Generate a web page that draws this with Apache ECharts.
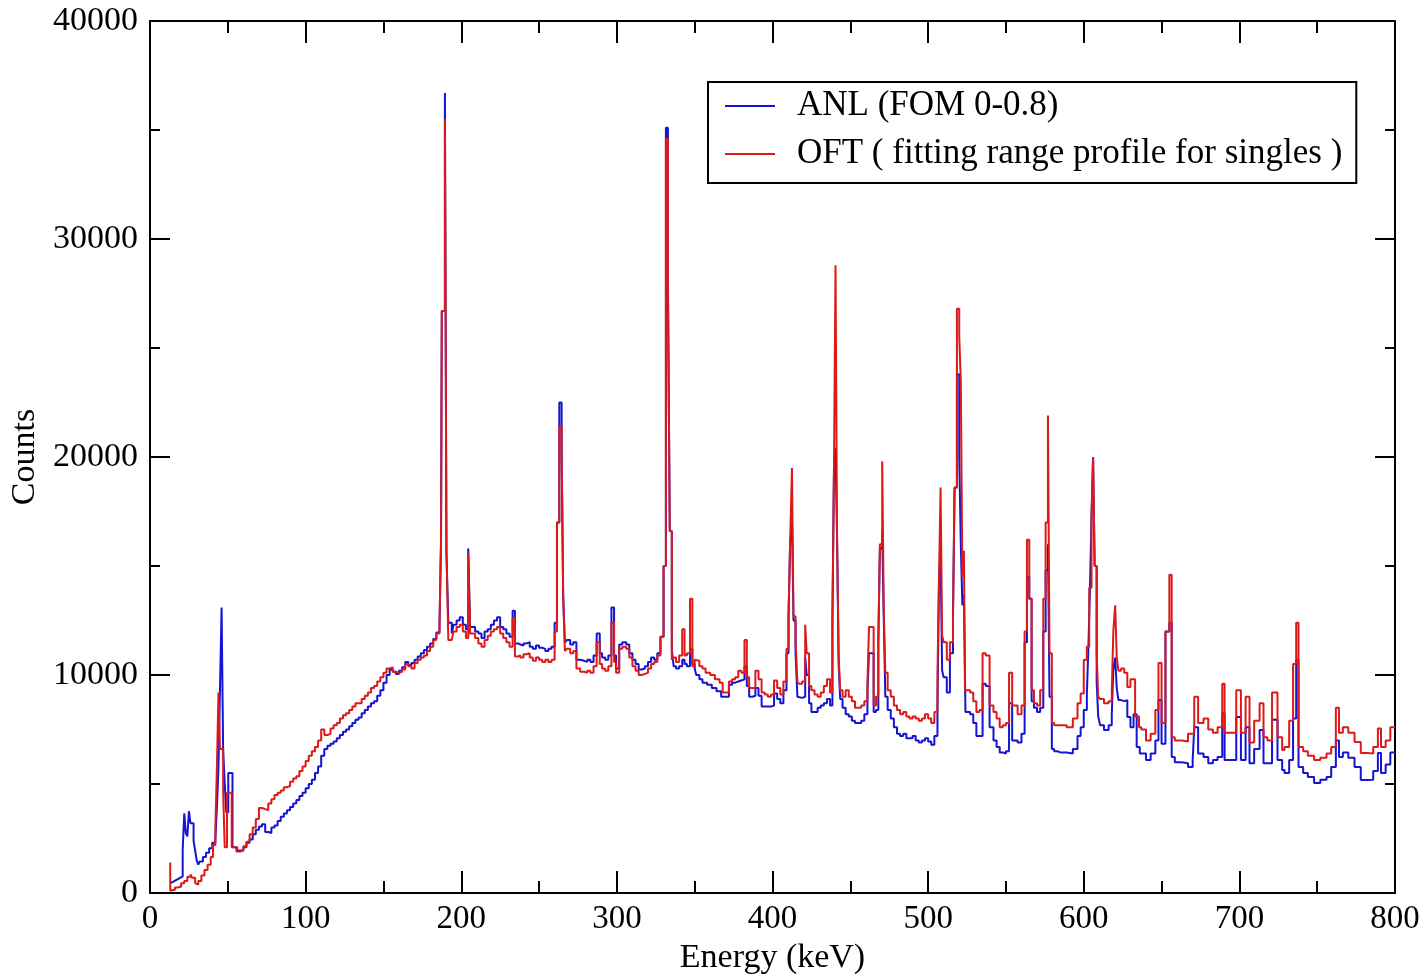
<!DOCTYPE html>
<html>
<head>
<meta charset="utf-8">
<script src="https://cdn.jsdelivr.net/npm/echarts@6/dist/echarts.min.js"></script>
<style>
html,body{margin:0;padding:0;background:#fff;}
#chart{width:1425px;height:974px;}
</style>
</head>
<body>
<div id="chart"></div>
<script>
// Energy (keV) ticks and count ticks
const xTicks = [0, 100, 200, 300, 400, 500, 600, 700, 800];
const yTicks = [0, 10000, 20000, 30000, 40000];
const seriesNames = ['ANL (FOM 0-0.8)', 'OFT ( fitting range profile for singles )'];

// ANL spectrum: [bin start energy (keV), counts]
const anl = [
[13,450],[15,520],[17,600],[19,680],[21,760],[22,1950],[23,3650],[24,2750],[25,2600],[26,3750],[28,3200],[29,2400],[30,1950],[31,1500],[32,1300],[34,1450],[36,1650],[38,1850],[40,2050],[42,2300],[43,2450],[44,3950],[45,5800],[46,9450],[47,13100],[48,6560],[49,5050],[50.3,3700],[53,5500],[56,2100],[58,1950],
[60,1950],[62,2100],[64,2300],[66,2450],[68,2700],[70,2900],[72,3050],[74,3150],[76,2800],[78,2750],[80,3000],[82,3100],[84,3300],[86,3500],[88,3650],[90,3800],[92,3950],[94,4100],[96,4270],[98,4450],[100,4600],[102,4800],[104,5000],[106,5200],[108,5500],[110,5800],[112,6300],[114,6600],[116,6750],[118,6850],[120,6950],[122,7100],[124,7250],[126,7400],[128,7500],[130,7650],[132,7800],[134,7950],[136,8050],[138,8250],[140,8400],[142,8550],[144,8700],[146,8800],[148,9050],[150,9300],[152,9650],[154,10000],[156,10250],[158,10150],[160,10050],[162,10200],[164,10350],[166,10600],[168,10450],[170,10550],[172,10700],[174,10850],[176,11000],[178,11150],[180,11300],[182,11450],[184,11650],[186,11950],[187,12200],
[187.5,16100],[189.5,26700],[190.5,36700],[191.7,15600],[193.9,12400],[195,11900],[197,12300],[199,12500],[201,12650],[203,12300],[204.5,12100],[205.7,15800],[208.9,12200],[211,12000],[213,11900],[215,11700],[217,12000],[219,12100],[221,12300],[223,12500],[225,12650],[227,12200],[229,12100],[231,11900],[233,11750],[234.5,12950],[236.5,11450],[238,11400],[240,11350],[242,11450],[244,11500],[246,11300],[248,11200],[250,11350],[252,11250],[254,11200],[256,11100],[258,11200],[260,11300],[261.5,12400],[263,17000],[264.5,22500],[265.5,20200],[266.6,13600],[267.8,11500],[270,11600],[272,11400],[274,11500],[276.4,10700],[279,10650],[281,10600],[283,10700],[285,10600],[287,10900],[289,11900],[290.5,11000],[292.5,10800],[294.5,10700],[296.5,10900],[298.2,13100],[299.5,10900],[301.5,10300],[303.5,11400],[306,11500],[308,11400],[310,11000],[312,10700],[314,10500],[316,10250],[318,10300],[320,10400],[322,10600],[324,10800],[326,10700],[328,11000],[330,11750],[331.5,15000],[332.8,35100],[334,28000],[335.3,16600],[336.5,11150],
[338,10400],[340,10300],[342,10400],[343.5,10700],[345,10500],[347,10400],[348.5,11200],[350,10500],[351,10300],[353,10000],[355,9800],[358,9650],[361,9550],[364,9400],[367,9250],[369,9000],[372,9000],[374,9550],[376,9650],[378,9700],[380,9750],[382,9800],[383.5,10400],[385,9500],[387,9000],[389,9050],[391,9400],[393,9050],[395,8550],[397,8550],[399,8550],[401,8600],[403,9150],[405,8900],[407,8700],[409,9300],[410.3,11000],[411.3,12700],[412.5,16000],[413.5,17200],[414.8,12500],[416,11000],[417,9000],[419,8950],[421,9000],[422,10800],[423.5,10000],[425,8700],[427,8300],[429,8300],[431,8500],[433,8600],[435,8700],[437,8900],[438.5,8600],[439.5,12500],[440.5,19500],[441.5,20400],[442.5,16200],[443.5,10500],[445,8900],[447,8500],[449,8200],[451,8100],[453,7900],[455,7800],[457,7800],[459,7900],[461,8200],[462,9200],[463,11000],[465,11000],[466.5,8300],[468,8400],[469,11500],[470.5,15800],[471.5,16600],[472.5,12500],[474,9000],[476,8400],[478,8000],[480,7600],[482,7300],[484,7200],[486,7300],[488,7100],[490,7100],[492,7200],[494,7000],[496,6900],[498,7000],[500,7100],[502,6950],[504,6800],[506,7200],[507,8500],[508,14500],[509,15600],[510,10200],[512,9900],[514,9200],[516,11000],[517,13000],[518.5,18600],[520,23800],[521,20000],[522,16000],[523,13200],[524,13700],[527,8300],[529,8200],[531,7800],[533,7200],[535,7200],[537,9600],[539.5,9500],[542,7600],[544,7000],[546,6700],[548,6450],[550,6400],[552,6500],[554,8700],[557.5,7000],[560,6900],[562,7300],[563.5,11500],[565,14500],[566.5,13500],[568,8800],[570,8500],[572,8300],[574,8500],[575.5,12000],[577,14800],[578,16000],[579.5,9000],[581,6600],[583,6500],
[585,6450],[589,6450],[593,6400],[596,6600],[598,7200],[600,7600],[602,8400],[603,9150],[604,11300],[605,14000],[606,17300],[607,20000],[608.3,15000],[609.3,9630],[610.5,8100],[613,7700],[616,7480],[618,7700],[619,8200],[620.2,10230],[621.2,10800],[622.3,9400],[624,8850],[626,8800],[628,8850],[630,8070],[632,7600],[634,8200],[636,6700],[640,6400],[643,6100],[646,6400],[648,7000],[650,8850],[652.5,6850],[655,12000],[656.5,12400],[658.5,6240],[663,6000],[667,5950],[670,5780],[671,6100],[673.5,7600],[677,6400],[680,6240],[683,5950],[686,6100],[689,6240],[690.5,8250],[694,6100],[698,6100],[701,8070],[704,6100],[706.5,7600],[709.5,5950],[713,6600],[715.5,7480],[718,5950],[721,5950],[724.5,7950],[727.5,6100],[729,5640],[732,5500],[734.5,6100],[736.5,8000],[738,10700],[741,5780],[744,5500],[748,5320],[752,5050],[756,5200],[759,5320],[762,5780],[764,7000],[766.5,6240],[770,6450],[774,6200],[778,5780],[782,5180],[786,5200],[789,5600],[791,6420],[794,5500],[797,5900],[799,6450],[800,6450]
];

// OFT spectrum: [bin start energy (keV), counts]
const oft = [
[13,1400],[14,100],[16,150],[18,250],[20,300],[22,450],[24,550],[26,750],[27,850],[29,700],[30,450],[31,380],[33,550],[35,800],[37,1050],[39,1300],[40.5,1650],[42,2200],[43,3000],[44,5800],[45,9200],[47,6600],[48,4700],[49.5,2100],[52.5,4600],[55.5,2100],[58,1900],
[60,1950],[62,2150],[64,2350],[66,2700],[68,3000],[70,3400],[72,3900],[74,3850],[76,3800],[78,4100],[80,4300],[82,4500],[84,4600],[86,4700],[88,4850],[90,4900],[92,5100],[94,5250],[96,5350],[98,5600],[100,5800],[102,6050],[104,6300],[106,6500],[108,6700],[110,7000],[112,7500],[114,7250],[116,7300],[118,7550],[120,7700],[122,7800],[124,8000],[126,8150],[128,8250],[130,8400],[132,8550],[134,8700],[136,8700],[138,8900],[140,9050],[142,9200],[144,9400],[146,9500],[148,9700],[150,9900],[152,10100],[154,10300],[156,10350],[158,10150],[160,10100],[162,10150],[164,10250],[166,10500],[168,10400],[170,10300],[172,10550],[174,10700],[176,10800],[178,10900],[180,11100],[182,11300],[184,11600],[186,11900],[187,12100],
[187.5,16100],[189.5,26700],[190.5,35500],[191.7,15600],[193.9,11600],[195,11600],[197,12000],[199,12200],[201,12300],[203,12000],[204.5,11700],[205.7,15600],[208.9,11900],[211,11700],[213,11450],[215,11300],[217,11600],[219,11800],[221,12000],[223,12100],[225,12200],[227,11900],[229,11700],[231,11500],[233,11300],[234.5,12600],[236.5,10850],[238,10900],[240,10800],[242,10950],[244,11000],[246,10800],[248,10650],[250,10800],[252,10700],[254,10600],[256,10700],[258,10600],[260,10700],[261.5,12000],[263,17000],[264.5,21400],[265.5,20500],[266.6,13600],[267.8,11100],[270,11200],[272,11000],[274,11100],[276.4,10300],[279,10150],[281,10100],[283,10200],[285,10100],[287,10400],[289,11500],[290.5,10500],[292.5,10300],[294.5,10200],[296.5,10400],[298.2,12400],[299.5,10600],[301.5,10100],[303.5,11200],[306,11300],[308,11200],[310,10800],[312,10400],[314,10200],[316,10000],[318,10050],[320,10100],[322,10300],[324,10500],[326,10600],[328,10900],[330,11750],[331.5,15000],[332.8,34600],[334,28000],[335.3,16600],[336.5,10700],
[338,10800],[340,10600],[342,10900],[343.5,12100],[345,10900],[347,11000],[348.5,13500],[350,10400],[351,10700],[353,10650],[355,10400],[357,10300],[360,10100],[363,10000],[366,9800],[368,9650],[370,9200],[372,9200],[374,9700],[376,9800],[378,9900],[380,10200],[382,10100],[383.5,11600],[385,9900],[387,9400],[389,9400],[391,10200],[393,9800],[395,9200],[397,9100],[399,9000],[401,9100],[403,9750],[405,9400],[407,9100],[409,9700],[410.3,11200],[411.3,12700],[412.5,16000],[413.5,19500],[414.8,12700],[416,11600],[417,9700],[419,9600],[421,9700],[422,12300],[423.5,11000],[425,9500],[427,9300],[429,9100],[431,9000],[433,9200],[435,9500],[437,9800],[438.5,9200],[439.5,12500],[440.5,19500],[441.5,28800],[442.5,16300],[443.5,10900],[445,9300],[447,9000],[449,9300],[451,9000],[453,8800],[455,8500],[457,8500],[459,8600],[461,8800],[462,9600],[463,12200],[465,12200],[466.5,8600],[468,9000],[469,11500],[470.5,16000],[471.5,19800],[472.5,13000],[474,10100],[476,9300],[478,9000],[480,8600],[482,8400],[484,8200],[486,8300],[488,8100],[490,8000],[492,8100],[494,8000],[496,7900],[498,8000],[500,8200],[502,8000],[504,7800],[506,8300],[507,10000],[508,14500],[509,18600],[510,11800],[512,11500],[514,10700],[516,11500],[517,12600],[518.5,18600],[520,26800],[521,25500],[522,23500],[523,14500],[523.7,15700],[527,9300],[529,9200],[531,8800],[533,8300],[535,8400],[537,11000],[539.5,10900],[542,8600],[544,8300],[546,8000],[548,7600],[550,7700],[552,7800],[554,10100],[557.5,8600],[560,8200],[562,8600],[563.5,12000],[565,16200],[566.5,13500],[568,9300],[570,8700],[572,8600],[574,9300],[575.5,13500],[577,17000],[578,21900],[579.5,11000],[581,7800],[583,7700],
[585,7700],[589,7700],[593,7600],[596,8000],[598,8700],[600,9150],[602,10700],[603.5,11300],[605,14000],[606,17300],[607,20000],[608.3,15000],[609.3,11000],[610.5,9000],[613,8900],[616,8700],[618,8800],[619,9200],[620.2,12000],[621.2,13200],[622.3,10800],[624,10200],[626,10300],[628,10100],[630,9450],[633,9800],[635.5,8100],[637,7600],[640,7500],[643,7000],[646,7300],[648,8400],[650,10550],[652.5,7800],[655,12000],[656.5,14600],[658.5,7150],[663,7000],[667,6950],[671,7300],[673.5,9000],[677,7800],[680,8000],[683,7500],[686,7350],[689,7600],[690.5,9600],[694,7350],[698,7350],[701,9300],[704,7350],[706.5,9000],[709.5,6900],[713,7900],[715.5,8700],[718,7150],[721,7000],[724.5,9200],[727.5,7150],[729,6560],[732,6700],[734.5,7900],[736.5,10500],[738,12400],[741,6700],[744,6500],[748,6300],[752,6100],[756,6200],[759,6400],[762,6700],[764,8500],[766.5,7350],[770,7600],[774,7350],[778,6930],[782,6420],[786,6400],[789,6700],[791,7550],[794,6700],[797,7000],[799,7600],[800,7600]
];

const FONT = 'Liberation Serif';
const chart = echarts.init(document.getElementById('chart'), null, {renderer: 'canvas'});

function xAxisCfg(pos, showLabel) {
  return {
    type: 'value', position: pos, min: xTicks[0], max: xTicks[xTicks.length - 1], interval: 100,
    name: showLabel ? 'Energy (keV)' : '', nameLocation: 'middle', nameGap: 47,
    nameTextStyle: {fontFamily: FONT, fontSize: 34, color: '#000'},
    axisLine: {show: true, onZero: false, lineStyle: {color: '#000', width: 2}},
    axisTick: {show: true, inside: true, length: 22, lineStyle: {color: '#000', width: 2}},
    minorTick: {show: true, splitNumber: 2, length: 12, lineStyle: {color: '#000', width: 2}},
    axisLabel: {show: showLabel, fontFamily: FONT, fontSize: 33, color: '#000', margin: 10,
                formatter: v => String(v)},
    splitLine: {show: false}
  };
}
function yAxisCfg(pos, showLabel) {
  return {
    type: 'value', position: pos, min: yTicks[0], max: yTicks[yTicks.length - 1], interval: 10000,
    name: showLabel ? 'Counts' : '', nameLocation: 'middle', nameGap: 80,
    nameTextStyle: {fontFamily: FONT, fontSize: 34, color: '#000'},
    axisLine: {show: true, onZero: false, lineStyle: {color: '#000', width: 2}},
    axisTick: {show: true, inside: true, length: 20, lineStyle: {color: '#000', width: 2}},
    minorTick: {show: true, splitNumber: 2, length: 10, lineStyle: {color: '#000', width: 2}},
    axisLabel: {show: showLabel, fontFamily: FONT, fontSize: 34, color: '#000', margin: 12,
                formatter: v => String(v)},
    splitLine: {show: false}
  };
}

chart.setOption({
  animation: false,
  backgroundColor: '#fff',
  grid: {left: 150, top: 21, width: 1245, height: 872, containLabel: false, outerBoundsMode: 'none'},
  xAxis: [xAxisCfg('bottom', true), xAxisCfg('top', false)],
  yAxis: [yAxisCfg('left', true), yAxisCfg('right', false)],
  legend: {
    data: seriesNames, orient: 'vertical', left: 708, top: 82,
    padding: [6, 14, 11, 17], itemGap: 12, itemWidth: 50, itemHeight: 2, icon: 'rect',
    borderColor: '#000', borderWidth: 2, backgroundColor: '#fff',
    textStyle: {fontFamily: FONT, fontSize: 35, color: '#000', padding: [0, 0, 0, 17], lineHeight: 36}
  },
  series: [
    {name: seriesNames[0], type: 'line', step: 'start', data: anl, xAxisIndex: 0, yAxisIndex: 0,
     showSymbol: false, color: '#1414d2', lineStyle: {width: 2, color: '#1414d2'}, z: 2},
    {name: seriesNames[1], type: 'line', step: 'start', data: oft, xAxisIndex: 0, yAxisIndex: 0,
     showSymbol: false, color: '#dc1a1a', lineStyle: {width: 2, color: '#dc1a1a'}, z: 3}
  ]
});
</script>
</body>
</html>
